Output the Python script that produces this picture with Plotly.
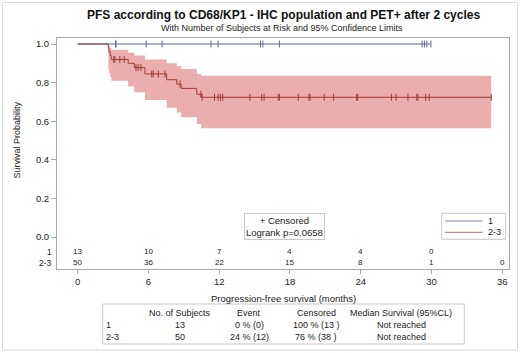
import plotly.graph_objects as go

# ---------------- data ----------------
groups = ["1", "2-3"]
# group 1: no events, censored times (months)
g1_end = 29.95
g1_cens = [3.2, 3.25, 5.8, 7.15, 11.3, 11.9, 15.5, 15.7, 17.1, 29.2, 29.4, 29.6, 29.95]

# group 2-3: event times and KM survival after each event, with 95% CL
g2_event_t = [2.6, 2.65, 2.75, 2.85, 4.28, 4.8, 5.7, 7.54, 8.4, 8.77, 10.1, 10.47]
g2_surv = [0.98, 0.96, 0.94, 0.92, 0.90, 0.878, 0.845, 0.815, 0.792, 0.77, 0.74, 0.724]
g2_upper = [0.997, 0.99, 0.98, 0.97, 0.955, 0.94, 0.92, 0.90, 0.885, 0.87, 0.845, 0.836]
g2_lower = [0.87, 0.85, 0.83, 0.81, 0.78, 0.75, 0.71, 0.67, 0.645, 0.62, 0.585, 0.563]
g2_end = 35.06
g2_cens = [3.06, 3.15, 3.57, 3.94, 4.94, 5.13, 5.36,
           6.27, 6.4, 6.83, 7.4, 8.68, 10.45, 10.55, 11.6, 11.9,
           12.1, 12.3, 14.6, 15.6, 15.8, 17.0, 17.1,
           18.7, 19.6, 19.7, 20.9, 21.7, 23.65, 23.75,
           26.6, 27.0, 28.0, 28.75, 28.85, 29.5, 29.8,
           35.06]

risk_times = [0, 6, 12, 18, 24, 30, 36]
risk_g1 = ["13", "10", "7", "4", "4", "0", ""]
risk_g2 = ["50", "36", "22", "15", "8", "1", "0"]

x_ticks = [0, 6, 12, 18, 24, 30, 36]
y_ticks = [0.0, 0.2, 0.4, 0.6, 0.8, 1.0]

title = "PFS according to CD68/KP1 - IHC population and PET+ after 2 cycles"
subtitle = "With Number of Subjects at Risk and 95% Confidence Limits"
x_title = "Progression-free survival (months)"
y_title = "Survival Probability"
logrank_text = "+ Censored<br>Logrank p=0.0658"

tbl_header = ["", "No. of Subjects", "Event", "Censored", "Median Survival (95%CL)"]
tbl_rows = [
    ["1", "13", "0 % (0)", "100 % (13 )", "Not reached"],
    ["2-3", "50", "24 % (12)", "76 % (38 )", "Not reached"],
]

# ---------------- styling / geometry ----------------
W, H = 520, 353
ML, MR, MT, MB = 57, 11, 38, 84
PW, PH = W - ML - MR, H - MT - MB
C1 = "#5A6A9C"
C2 = "#A23A2E"
C1L = "#7F8BB8"
C2L = "#C48A84"
BAND = "rgb(234,174,174)"
FONT = "Liberation Sans, Arial, sans-serif"
TXT = "#222222"
FRAME = "#A8A8A8"
BOX = "#C8C8C8"


def px(x):
    return (x - ML) / PW


def py(y):
    return (H - MB - y) / PH


def surv_at(t):
    s = 1.0
    for et, sv in zip(g2_event_t, g2_surv):
        if et <= t:
            s = sv
    return s


fig = go.Figure()

# confidence band (step)
band_x = [0] + g2_event_t + [g2_end]
band_up = [1.0] + g2_upper + [g2_upper[-1]]
band_lo = [1.0] + g2_lower + [g2_lower[-1]]
fig.add_trace(go.Scatter(x=band_x, y=band_up, mode="lines", line=dict(width=0, shape="hv"),
                         hoverinfo="skip", showlegend=False))
fig.add_trace(go.Scatter(x=band_x, y=band_lo, mode="lines", line=dict(width=0, shape="hv"),
                         fill="tonexty", fillcolor=BAND, hoverinfo="skip", showlegend=False))

# group 1 line
fig.add_trace(go.Scatter(x=[0, g1_end], y=[1.0, 1.0], mode="lines",
                         line=dict(color=C1, width=1), name=groups[0], showlegend=False))
# group 2-3 line
g2_x = [0] + g2_event_t + [g2_end]
g2_y = [1.0] + g2_surv + [g2_surv[-1]]
fig.add_trace(go.Scatter(x=g2_x, y=g2_y, mode="lines",
                         line=dict(color=C2, width=1, shape="hv"), name=groups[1], showlegend=False))

# censor marks
fig.add_trace(go.Scatter(x=g1_cens, y=[1.0] * len(g1_cens), mode="markers",
                         marker=dict(symbol="line-ns", size=5, line=dict(color=C1, width=1)),
                         showlegend=False, hoverinfo="skip"))
fig.add_trace(go.Scatter(x=g2_cens, y=[surv_at(t) for t in g2_cens], mode="markers",
                         marker=dict(symbol="line-ns", size=5, line=dict(color=C2, width=1)),
                         showlegend=False, hoverinfo="skip"))

ann = []
# titles
ann.append(dict(x=px(283), y=py(15), xref="paper", yref="paper", text="<b>" + title + "</b>",
                showarrow=False, font=dict(size=12, color="#111"), xanchor="center", yanchor="middle"))
ann.append(dict(x=px(282), y=py(27.5), xref="paper", yref="paper", text=subtitle,
                showarrow=False, font=dict(size=9, color=TXT), xanchor="center", yanchor="middle"))
ann.append(dict(x=px(283), y=py(298), xref="paper", yref="paper", text=x_title,
                showarrow=False, font=dict(size=9.5, color=TXT), xanchor="center", yanchor="middle"))
ann.append(dict(x=px(16.5), y=py(140), xref="paper", yref="paper", text=y_title, textangle=-90,
                showarrow=False, font=dict(size=9, color=TXT), xanchor="center", yanchor="middle"))

# at-risk rows
for lab, vals, ypix in [(groups[0], risk_g1, 251.5), (groups[1], risk_g2, 262.5)]:
    ann.append(dict(x=px(54), y=py(ypix), xref="paper", yref="paper", text=lab, showarrow=False,
                    font=dict(size=8.5, color=TXT), xanchor="right", yanchor="middle"))
    for t, v in zip(risk_times, vals):
        if v:
            ann.append(dict(x=t, y=py(ypix), xref="x", yref="paper", text=v, showarrow=False,
                            font=dict(size=8, color=TXT), xanchor="center", yanchor="middle"))

# censored / logrank box
ann.append(dict(x=px(284.2), y=py(226.5), xref="paper", yref="paper", text=logrank_text,
                showarrow=False, font=dict(size=9.5, color=TXT), align="center",
                bordercolor=BOX, borderwidth=1, borderpad=1, bgcolor="white",
                xanchor="center", yanchor="middle"))

shapes = []
# line legend box (drawn manually)
shapes.append(dict(type="rect", xref="paper", yref="paper", x0=px(441.7), x1=px(505.7),
                   y0=py(213.3), y1=py(239.3), line=dict(color=BOX, width=1), fillcolor="white",
                   layer="above"))
for lab, col, ypix in [(groups[0], C1L, 221), (groups[1], C2L, 232.3)]:
    shapes.append(dict(type="line", xref="paper", yref="paper", x0=px(445), x1=px(482.7),
                       y0=py(ypix), y1=py(ypix), line=dict(color=col, width=1.2), layer="above"))
    ann.append(dict(x=px(486), y=py(ypix), xref="paper", yref="paper", text=lab, showarrow=False,
                    font=dict(size=9, color=TXT), xanchor="left", yanchor="middle"))

# summary table
col_x = [104, 180, 249, 316, 401]
col_anchor = ["left", "center", "center", "center", "center"]
row_y = [313, 325, 337]
for r, row in enumerate([tbl_header] + tbl_rows):
    for c, cell in enumerate(row):
        if cell:
            ann.append(dict(x=px(col_x[c]), y=py(row_y[r]), xref="paper", yref="paper", text=cell,
                            showarrow=False, font=dict(size=9, color=TXT),
                            xanchor=col_anchor[c], yanchor="middle"))

shapes += [
    dict(type="rect", xref="paper", yref="paper", x0=px(102.7), x1=px(464.3), y0=py(304), y1=py(344),
         line=dict(color=BOX, width=1)),
    dict(type="rect", xref="paper", yref="paper", x0=px(2.5), x1=px(517.5), y0=py(2.5), y1=py(350),
         line=dict(color="#D8D8D8", width=1)),
]

fig.update_layout(
    width=W, height=H,
    margin=dict(l=ML, r=MR, t=MT, b=MB),
    paper_bgcolor="white", plot_bgcolor="white",
    font=dict(family=FONT, color=TXT, size=9),
    annotations=ann, shapes=shapes,
    showlegend=False,
)
fig.update_xaxes(range=[(ML - 77.7) / 11.794, (ML + PW - 77.7) / 11.794],
                 tickvals=x_ticks, ticktext=[str(v) for v in x_ticks],
                 showgrid=False, zeroline=False, showline=True, mirror=True,
                 linecolor=FRAME, linewidth=1, ticks="outside", ticklen=4, tickcolor=FRAME,
                 tickfont=dict(size=9.5, color=TXT))
fig.update_yaxes(range=[(237 - (H - MB)) / 193, (237 - MT) / 193],
                 tickvals=y_ticks, ticktext=["%.1f" % v for v in y_ticks],
                 showgrid=False, zeroline=False, showline=True, mirror=True,
                 linecolor=FRAME, linewidth=1, ticks="outside", ticklen=5, tickcolor=FRAME,
                 tickfont=dict(size=9.5, color=TXT))

fig.write_html("out.html", config={"displayModeBar": False},
               post_script="document.body.style.margin='0px';")
